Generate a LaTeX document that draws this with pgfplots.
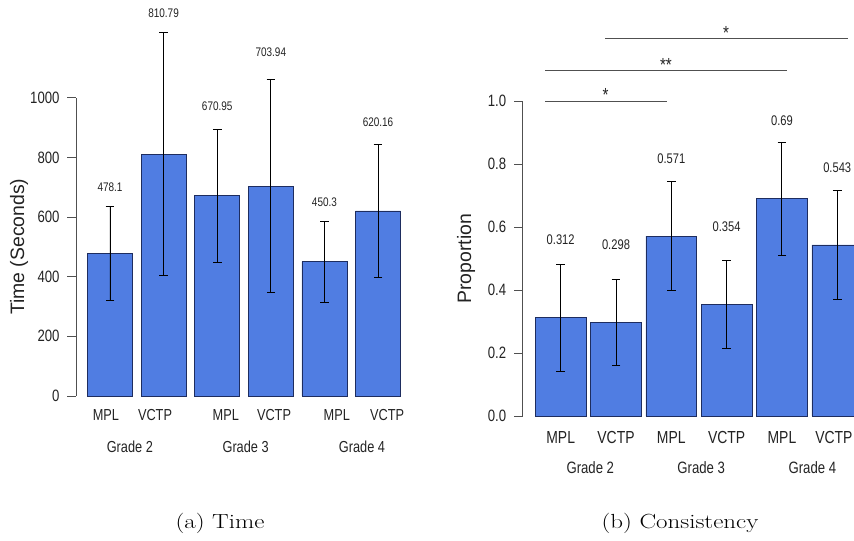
\documentclass[border=0pt]{standalone}
\usepackage{pgfplots}
\usepackage{pgfplotstable}
\usepackage{graphicx}
\pgfplotsset{compat=1.18}
\usepackage{fontspec}
\newfontfamily\cf{Liberation Sans}[FakeStretch=0.8]
\newfontfamily\cfr{Liberation Sans}
\definecolor{barblue}{RGB}{80,125,226}
\definecolor{baredge}{RGB}{30,45,95}
\definecolor{txt}{RGB}{35,35,35}
\definecolor{spine}{RGB}{80,80,80}

\pgfplotstableread{
x y e
0 478.1 157
1 810.79 407
2 670.95 222
3 703.94 358
4 450.3 136
5 620.16 223
}\timedata

\pgfplotstableread{
x y e
0 0.312 0.170
1 0.298 0.136
2 0.571 0.173
3 0.354 0.141
4 0.690 0.179
5 0.543 0.173
}\consdata

\pgfplotsset{panel/.style={
  scale only axis, anchor=south west, clip=false,
  axis lines*=left, axis line style={draw=none},
  xtick=\empty, tick align=outside, major tick length=8.5bp,
  every tick/.style={spine, line width=0.8bp},
  ytick pos=left,
  /pgf/number format/assume math mode=true,
  /pgf/number format/1000 sep={},
}}

\begin{document}
\begin{tikzpicture}
\useasboundingbox (0,0) rectangle (854bp,541bp);

% ---------- (a) Time ----------
\begin{axis}[panel,
  at={(76bp,145bp)}, width=334.2bp, height=387.8bp,
  xmin=-0.634, xmax=5.6, ymin=0, ymax=1300,
  ytick={0,200,400,600,800,1000},
  yticklabel style={font=\cf\fontsize{16.5}{17}\selectfont, text=txt, xshift=-4.5bp},
]
\addplot[ybar, bar width=0.84, bar shift=0pt, fill=barblue, draw=baredge, line width=0.7bp,
  error bars/.cd, y dir=both, y explicit,
  error bar style={black, line width=0.9bp},
  error mark options={black, line width=0.9bp, mark size=4.3bp, rotate=90}]
  table[x=x, y=y, y error=e]{\timedata};
\draw[spine, line width=0.8bp] (axis cs:-0.634,0) -- (axis cs:-0.634,1000);
\begin{scope}[every node/.style={font=\cf\fontsize{12.5}{13}\selectfont, text=txt}]
\node at (axis cs:0,700.6) {478.1};
\node at (axis cs:1,1283) {810.79};
\node at (axis cs:2,970) {670.95};
\node at (axis cs:3,1152) {703.94};
\node at (axis cs:4,648) {450.3};
\node at (axis cs:5,917.5) {620.16};
\end{scope}
\begin{scope}[every node/.style={font=\cf\fontsize{16}{17}\selectfont, text=txt}]
\node[yshift=-19bp] at (axis cs:-0.075,0) {MPL};
\node[yshift=-19bp] at (axis cs:0.84,0) {VCTP};
\node[yshift=-19bp] at (axis cs:2.16,0) {MPL};
\node[yshift=-19bp] at (axis cs:3.06,0) {VCTP};
\node[yshift=-19bp] at (axis cs:4.23,0) {MPL};
\node[yshift=-19bp] at (axis cs:5.17,0) {VCTP};
\node[yshift=-50.7bp] at (axis cs:0.37,0) {Grade 2};
\node[yshift=-50.7bp] at (axis cs:2.53,0) {Grade 3};
\node[yshift=-50.7bp] at (axis cs:4.70,0) {Grade 4};
\end{scope}
\end{axis}

% ---------- (b) Consistency ----------
\begin{axis}[panel,
  at={(522.7bp,125bp)}, width=347.7bp, height=409.5bp,
  xmin=-0.687, xmax=5.6, ymin=0, ymax=1.3,
  ytick={0,0.2,0.4,0.6,0.8,1.0},
  yticklabel style={font=\cf\fontsize{16.5}{17}\selectfont, text=txt, xshift=-4.5bp,
    /pgf/number format/fixed, /pgf/number format/fixed zerofill,
    /pgf/number format/precision=1},
]
\addplot[ybar, bar width=0.917, bar shift=0pt, fill=barblue, draw=baredge, line width=0.7bp,
  error bars/.cd, y dir=both, y explicit,
  error bar style={black, line width=0.9bp},
  error mark options={black, line width=0.9bp, mark size=4.3bp, rotate=90}]
  table[x=x, y=y, y error=e]{\consdata};
\draw[spine, line width=0.8bp] (axis cs:-0.687,0) -- (axis cs:-0.687,1.0);
\addplot[spine, line width=0.9bp] coordinates {(-0.28,1.0) (1.917,1.0)};
\addplot[spine, line width=0.9bp] coordinates {(-0.28,1.098) (4.10,1.098)};
\addplot[spine, line width=0.9bp] coordinates {(0.81,1.198) (5.19,1.198)};
\begin{scope}[every node/.style={font=\cf\fontsize{19}{20}\selectfont, text=txt, anchor=base}]
\node[yshift=-1bp] at (axis cs:0.81,1.0) {*};
\node[yshift=-1bp] at (axis cs:1.904,1.098) {**};
\node[yshift=-1bp] at (axis cs:2.99,1.198) {*};
\end{scope}
\begin{scope}[every node/.style={font=\cf\fontsize{14}{15}\selectfont, text=txt}]
\node at (axis cs:0,0.559) {0.312};
\node at (axis cs:1,0.545) {0.298};
\node at (axis cs:2,0.817) {0.571};
\node at (axis cs:3,0.601) {0.354};
\node at (axis cs:4,0.937) {0.69};
\node at (axis cs:5,0.789) {0.543};
\end{scope}
\begin{scope}[every node/.style={font=\cf\fontsize{17.5}{18}\selectfont, text=txt}]
\node[yshift=-21.3bp] at (axis cs:0,0) {MPL};
\node[yshift=-21.3bp] at (axis cs:1,0) {VCTP};
\node[yshift=-21.3bp] at (axis cs:2,0) {MPL};
\node[yshift=-21.3bp] at (axis cs:3,0) {VCTP};
\node[yshift=-21.3bp] at (axis cs:4,0) {MPL};
\node[yshift=-21.3bp] at (axis cs:4.94,0) {VCTP};
\end{scope}
\begin{scope}[every node/.style={font=\cf\fontsize{16.5}{18}\selectfont, text=txt}]
\node[yshift=-51.3bp] at (axis cs:0.535,0) {Grade 2};
\node[yshift=-51.3bp] at (axis cs:2.54,0) {Grade 3};
\node[yshift=-51.3bp] at (axis cs:4.55,0) {Grade 4};
\end{scope}
\end{axis}

% axis titles and captions
\node[rotate=90, font=\cfr\fontsize{19.5}{20}\selectfont, text=txt] at (19bp,294.3bp) {Time (Seconds)};
\node[rotate=90, font=\cfr\fontsize{19.5}{20}\selectfont, text=txt] at (466bp,282.3bp) {Proportion};
\node at (220bp,18bp) {\fontsize{20.5}{24}\selectfont\scalebox{1.22}[1]{(a) Time}};
\node at (680bp,18bp) {\fontsize{20.5}{24}\selectfont\scalebox{1.22}[1]{(b) Consistency}};
\end{tikzpicture}
\end{document}
